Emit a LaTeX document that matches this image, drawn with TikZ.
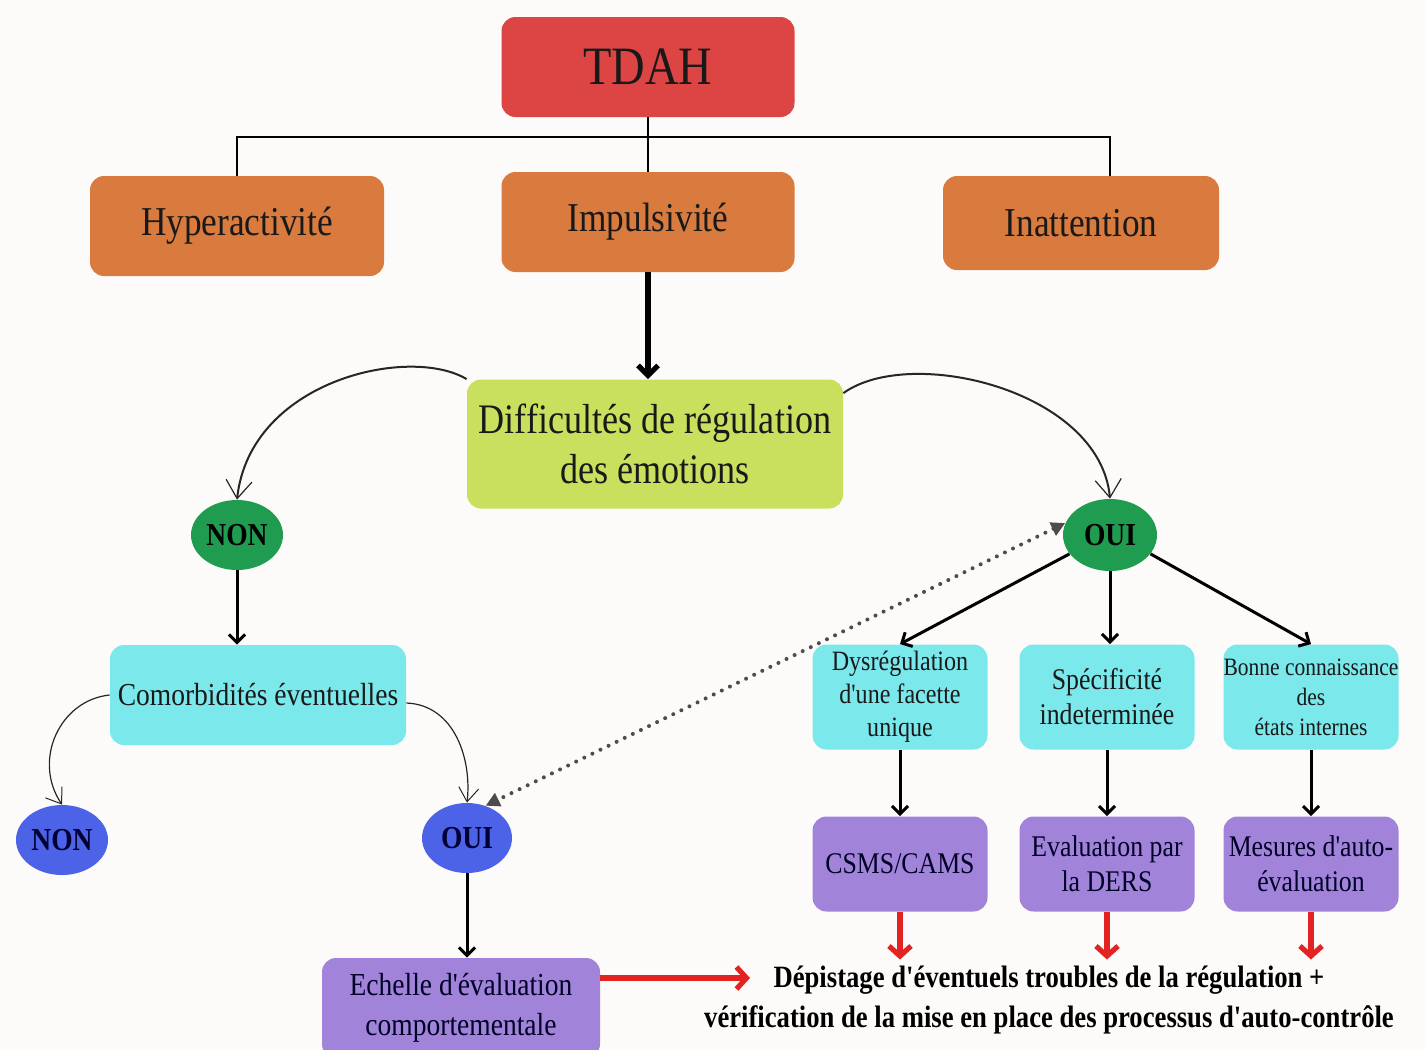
\documentclass[tikz,border=0pt]{standalone}
\usepackage{fontspec}
\setmainfont[FakeStretch=0.86,Ligatures=TeXOff]{Liberation Serif}
\usetikzlibrary{arrows.meta,shapes.geometric}

\definecolor{paper}{HTML}{FCFBF9}
\definecolor{tdahred}{HTML}{DD4444}
\definecolor{symorange}{HTML}{D97B3E}
\definecolor{diffgreen}{HTML}{C9E05E}
\definecolor{yesgreen}{HTML}{1F9C50}
\definecolor{boxcyan}{HTML}{7BE8EC}
\definecolor{nodeblue}{HTML}{4C63E8}
\definecolor{toolpurple}{HTML}{A184DA}
\definecolor{arrowred}{HTML}{E32222}

\begin{document}
\begin{tikzpicture}
	[x=0.5pt,y=-0.5pt,
	box/.style={rectangle,rounded corners=7pt,align=center,inner sep=2pt,text=black!90},
	bigbox/.style={box,minimum width=147pt,minimum height=50pt,fill=symorange,font=\fontsize{20.5}{24}\selectfont},
	answer/.style={ellipse,inner sep=0pt,font=\bfseries\fontsize{16}{18}\selectfont,minimum width=46pt,minimum height=35pt},
	facet/.style={box,fill=boxcyan,minimum width=87.5pt,minimum height=52.5pt,inner sep=0pt},
	tool/.style={box,fill=toolpurple,minimum width=87.5pt,minimum height=47.5pt,inner sep=0pt,font=\fontsize{15}{17.5}\selectfont,text=black!85!blue},
	edge/.style={line width=1.5pt,-{Straight Barb[length=4pt,width=8pt]}},
	sketch/.style={line width=1pt,black!85,-{Straight Barb[length=9pt,width=13pt,line width=0.6pt]}},
	thinsketch/.style={line width=0.6pt,black!85,-{Straight Barb[length=7pt,width=10pt,line width=0.5pt]}},
	redge/.style={line width=2.6pt,arrowred,-{Straight Barb[length=5pt,width=11pt]}},
	linkdots/.style={gray!60!black,line width=2pt,dash pattern=on 0pt off 4.5pt,line cap=round,{Triangle[length=7pt,width=7pt]}-{Triangle[length=7pt,width=7pt]}}]
			\useasboundingbox (0,0) rectangle (1425,1050);
			\fill[paper] (0,0) rectangle (1425,1050);

			\node[box,fill=tdahred,minimum width=146.5pt,minimum height=50pt,font=\fontsize{27}{30}\selectfont] (tdah) at (648,67) {TDAH};
			\node[bigbox] (hyp) at (237,226) {Hyperactivité};
			\node[bigbox,minimum width=146.5pt] (imp) at (648,222) {Impulsivité};
			\node[bigbox,minimum width=138pt,minimum height=47pt] (inat) at (1081,223) {Inattention};

			\node[box,fill=diffgreen,minimum width=188pt,minimum height=64.5pt,font=\fontsize{21}{25}\selectfont] (diff) at (655,444) {Difficultés de régulation\\des émotions};

			\node[answer,fill=yesgreen] (non1) at (237,535) {NON};
			\node[answer,fill=yesgreen,minimum width=47pt,minimum height=36pt] (oui1) at (1110,535) {OUI};

			\node[box,fill=boxcyan,minimum width=148pt,minimum height=50pt,font=\fontsize{16}{19}\selectfont] (comor) at (258,695) {Comorbidités éventuelles};
			\node[answer,fill=nodeblue,text=black!80!blue] (non2) at (62,840) {NON};
			\node[answer,fill=nodeblue,text=black!80!blue,minimum width=45pt] (oui2) at (467,838) {OUI};
			\node[box,fill=toolpurple,minimum width=139pt,minimum height=50pt,font=\fontsize{16}{20}\selectfont,text=black!85!blue] (ech) at (461,1008) {Echelle d'évaluation\\comportementale};

			\node[facet,font=\fontsize{14}{16.5}\selectfont] (dys) at (900,697) {Dysrégulation\\d'une facette\\unique};
			\node[facet,font=\fontsize{15}{17.5}\selectfont] (spec) at (1107,697) {Spécificité\\indeterminée};
			\node[facet,font=\fontsize{12.5}{15}\selectfont] (bon) at (1311,697) {Bonne connaissance\\des\\états internes};

			\node[tool] (csms) at (900,864) {CSMS/CAMS};
			\node[tool] (ders) at (1107,864) {Evaluation par\\la DERS};
			\node[tool] (auto) at (1311,864) {Mesures d'auto-\\évaluation};

			\node[align=center,inner sep=3pt,font=\bfseries\fontsize{15.5}{20}\selectfont] (dep) at (1049,1000) {Dépistage d'éventuels troubles de la régulation +\\vérification de la mise en place des processus d'auto-contrôle};

			% tree under TDAH
			\coordinate (bar) at (1110,137);
			\draw[line width=1pt] (tdah.south) -- (imp.north);
			\draw[line width=1pt] (hyp.north) |- (bar) -- (bar |- inat.north);
			\draw[line width=2.6pt,-{Straight Barb[length=5pt,width=10pt]}] (imp.south) -- (imp.south |- diff.north);

			% hand drawn curves
			\draw[sketch] (diff.north west) .. controls (410,345) and (250,380) .. (non1.north);
			\draw[sketch] ([yshift=-7pt]diff.north east) .. controls (910,345) and (1100,390) .. (oui1.north);
			\draw[thinsketch] (comor.west) .. controls (60,700) and (32,760) .. (non2.north);
			\draw[thinsketch] ([yshift=-4pt]comor.east) .. controls (455,705) and (472,760) .. (oui2.north);

			\draw[linkdots] (oui1.165) -- (oui2.60);

			\draw[edge] (non1.south) -- (non1.south |- comor.north);
			\draw[edge] (oui2.south) -- (oui2.south |- ech.north);
			\draw[edge] (oui1.205) -- (dys.north);
			\draw[edge] (oui1.south) -- (oui1.south |- spec.north);
			\draw[edge] (oui1.-25) -- (bon.north);
			\draw[edge] (dys.south) -- (csms.north);
			\draw[edge] (spec.south) -- (ders.north);
			\draw[edge] (bon.south) -- (auto.north);

			\coordinate (depin) at (750,978);
			\draw[redge] (ech.east |- depin) -- (depin);
			\draw[redge] (csms.south) -- (csms.south |- dep.north);
			\draw[redge] (ders.south) -- (ders.south |- dep.north);
			\draw[redge] (auto.south) -- (auto.south |- dep.north);
\end{tikzpicture}
\end{document}
